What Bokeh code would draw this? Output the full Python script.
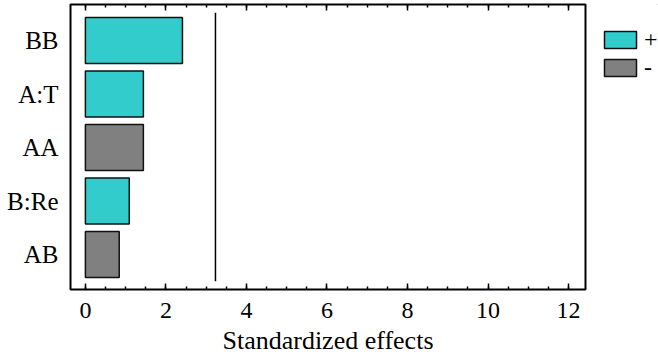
from bokeh.plotting import figure
from bokeh.layouts import row
from bokeh.models import (Range1d, LinearAxis, Legend, LegendItem, ColumnDataSource,
                          FixedTicker)
from bokeh.embed import file_html
from bokeh.resources import INLINE

# ---- data ----
effects = ["BB", "A:T", "AA", "B:Re", "AB"]
values = [2.41, 1.44, 1.44, 1.09, 0.84]
signs = ["+", "+", "-", "+", "-"]
critical_value = 3.23
x_ticks = [0, 2, 4, 6, 8, 10, 12]
sign_colors = {"+": "#33CCCC", "-": "#808080"}

FONT = "Liberation Serif"

n = len(effects)
ypos = [n - i for i in range(n)]

p = figure(width=587, height=363, output_backend="svg", toolbar_location=None,
           x_range=Range1d(-0.37, 12.42), y_range=Range1d(0.346, 5.673),
           x_axis_location=None, y_axis_location=None,
           min_border_left=70, min_border_top=4, min_border_bottom=74, min_border_right=2)
p.grid.visible = False
p.outline_line_color = "black"
p.outline_line_width = 2
p.background_fill_color = "white"

for s in ["+", "-"]:
    idx = [i for i in range(n) if signs[i] == s]
    src = ColumnDataSource(dict(y=[ypos[i] for i in idx], right=[values[i] for i in idx]))
    p.hbar(y="y", left=0, right="right", height=0.86, source=src,
           fill_color=sign_colors[s], line_color="#111111", line_width=1.5)

p.segment(x0=[critical_value], x1=[critical_value], y0=[0.5], y1=[5.52],
          line_color="black", line_width=1.5)

minor = [x / 2 for x in range(0, 25)]
xb = LinearAxis(ticker=FixedTicker(ticks=x_ticks, minor_ticks=minor),
                axis_label="Standardized effects")
xt = LinearAxis(ticker=FixedTicker(ticks=x_ticks, minor_ticks=minor))
for ax in (xb, xt):
    ax.major_tick_in = 6
    ax.major_tick_out = 0
    ax.minor_tick_in = 3
    ax.minor_tick_out = 0
    ax.major_tick_line_width = 1.5
    ax.minor_tick_line_width = 1.5
    ax.axis_line_color = None
    ax.major_label_text_font = FONT
    ax.major_label_text_font_size = "24px"
    ax.major_label_text_color = "black"
xb.major_label_standoff = 13
xb.axis_label_text_font = FONT
xb.axis_label_text_font_size = "26px"
xb.axis_label_text_font_style = "normal"
xb.axis_label_text_color = "black"
xb.axis_label_standoff = 5
xt.major_label_text_font_size = "0px"
xt.major_label_standoff = 0
p.add_layout(xb, "below")
p.add_layout(xt, "above")

yl = LinearAxis(ticker=FixedTicker(ticks=ypos),
                major_label_overrides={ypos[i]: effects[i] for i in range(n)})
yl.major_tick_in = 0
yl.major_tick_out = 0
yl.minor_tick_line_color = None
yl.axis_line_color = None
yl.major_label_text_font = FONT
yl.major_label_text_font_size = "25px"
yl.major_label_text_color = "black"
yl.major_label_standoff = 12
p.add_layout(yl, "left")

# legend panel
lp = figure(width=71, height=363, output_backend="svg", toolbar_location=None,
            x_range=Range1d(0, 1), y_range=Range1d(0, 1),
            x_axis_location=None, y_axis_location=None,
            min_border_left=0, min_border_right=0, min_border_bottom=74, min_border_top=4)
lp.grid.visible = False
lp.outline_line_color = None
items = []
for s in ["+", "-"]:
    r = lp.hbar(y=[5], left=[5], right=[6], height=0.1,
                fill_color=sign_colors[s], line_color="#111111", line_width=1.5)
    items.append(LegendItem(label=s, renderers=[r]))
legend = Legend(items=items, location=(13, 208), glyph_width=40, glyph_height=21, spacing=1,
                label_standoff=4, padding=0, margin=0, border_line_color=None,
                background_fill_alpha=0, label_text_font=FONT, label_text_font_size="24px",
                label_text_color="black")
lp.add_layout(legend, "center")

open("out.html", "w").write(file_html(row(p, lp, spacing=0), INLINE))
